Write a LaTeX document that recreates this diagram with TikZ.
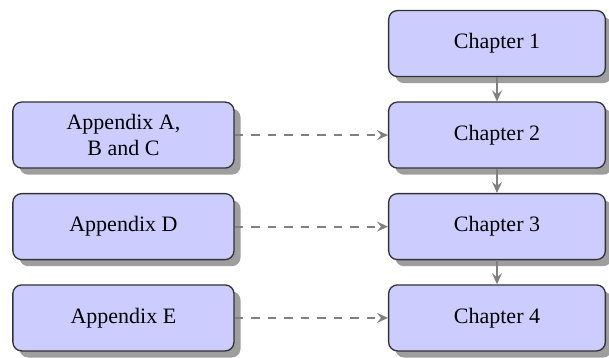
\documentclass[tikz,border=0pt]{standalone}
\usepackage{fontspec}
\setmainfont{Liberation Serif}
\usetikzlibrary{shadows,arrows.meta}

\begin{document}
\begin{tikzpicture}
\tikzstyle{every node}+=[inner sep=2pt]
\tikzstyle{box}=[draw=black!80, fill=blue!20, rounded corners=4pt, line width=0.6pt,
  minimum height=30pt, align=center,
  drop shadow={fill=black!38, opacity=1, shadow xshift=3pt, shadow yshift=-3pt}]
\tikzstyle{chap}=[box, minimum width=98.5pt]
\tikzstyle{appx}=[box, minimum width=100.5pt]
\tikzstyle{flow}=[draw=black!50, line width=0.9pt, -{Stealth[length=5pt, width=4.5pt, inset=1.8pt]}]
\tikzstyle{side}=[flow, dash pattern=on 4pt off 3.5pt]
\useasboundingbox (0,0) rectangle (276.8pt,-162.7pt);
% chapters
\node [chap] (ch1) at (225.9pt,-19.8pt) {Chapter 1};
\node [chap] (ch2) at (225.9pt,-61.4pt) {Chapter 2};
\node [chap] (ch3) at (225.9pt,-103.0pt) {Chapter 3};
\node [chap] (ch4) at (225.9pt,-144.5pt) {Chapter 4};
% appendices
\node [appx] (appabc) at (56.1pt,-61.4pt) {Appendix A,\\ B and C};
\node [appx] (appd) at (56.1pt,-103.0pt) {Appendix D};
\node [appx] (appe) at (56.1pt,-144.5pt) {Appendix E};
% reading order
\draw [flow] (ch1) -- (ch2);
\draw [flow] (ch2) -- (ch3);
\draw [flow] (ch3) -- (ch4);
\draw [side] (appabc) -- (ch2);
\draw [side] (appd) -- (ch3);
\draw [side] (appe) -- (ch4);
\end{tikzpicture}
\end{document}
